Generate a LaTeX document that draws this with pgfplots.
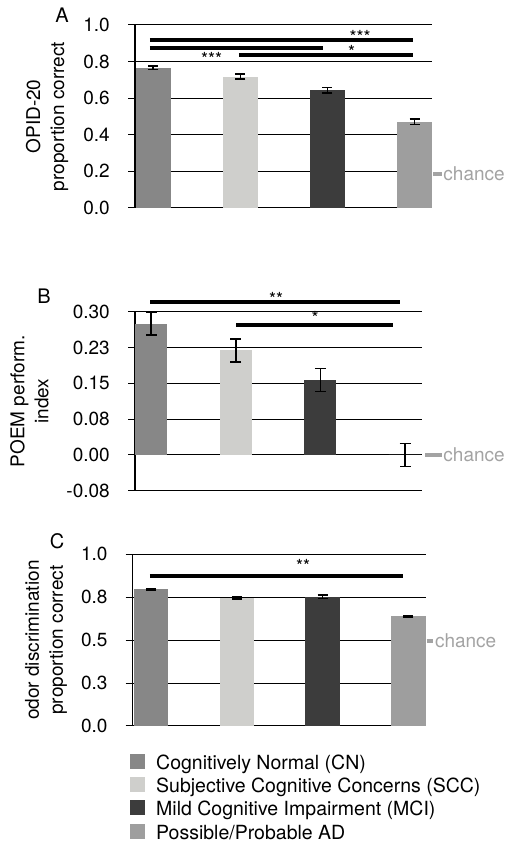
\documentclass[border=0pt]{standalone}
\usepackage{fontspec}
\setmainfont{TeX Gyre Heros}
\usepackage{pgfplots}
\pgfplotsset{compat=1.18}
\definecolor{cCN}{HTML}{878787}
\definecolor{cSCC}{HTML}{CFCFCC}
\definecolor{cMCI}{HTML}{3C3C3C}
\definecolor{cAD}{HTML}{9E9E9E}
\definecolor{cchance}{HTML}{A3A3A3}
\newcommand\ff{\fontsize{19}{24}\selectfont}
\newcommand\starfont{\fontsize{18}{20}\selectfont}
\pgfplotsset{
  panel/.style={
    scale only axis, anchor=south west, clip=false,
    axis x line=none, axis y line*=left,
    axis line style={black, line width=1.5pt},
    ymajorgrids, grid style={black, line width=1pt},
    tick align=outside, major tick length=7pt,
    ytick style={black, line width=1pt},
    xtick=\empty,
    /pgf/number format/assume math mode=true,
    yticklabel style={font=\ff, anchor=east, inner sep=0pt, xshift=-18pt},
    ylabel style={font=\ff, align=center, anchor=center},
    error bars/y dir=both, error bars/y explicit,
    error bars/error bar style={black, line width=1.6pt},
    error bars/error mark options={rotate=90, black, mark size=5pt, line width=1.6pt},
  },
  mybar/.style 2 args={ybar, bar shift=0pt, bar width=#2, draw=none, fill=#1,
    legend image code/.code={\fill[##1] (0pt,-5.5pt) rectangle (14.5pt,9.5pt);}},
}
\tikzset{
  sig/.style={line width=4pt, black},
  star/.style={anchor=base, inner sep=0pt, font=\starfont},
  plab/.style={font=\fontsize{20}{20}\selectfont, anchor=center, inner sep=0pt},
  chance/.style={cchance, line width=3.5pt},
  chancetxt/.style={right, inner sep=0pt, text=cchance, font=\ff},
}
\begin{document}
\begin{tikzpicture}
\path[use as bounding box] (0pt,0pt) rectangle (512pt,845pt);
% ---------------- Panel A ----------------
\begin{axis}[panel,
  at={(135pt,637pt)}, width=297pt, height=183pt,
  xmin=-0.21, xmax=3.2, ymin=0, ymax=1,
  ytick={0,0.2,0.4,0.6,0.8,1},
  yticklabels={0.0,0.2,0.4,0.6,0.8,1.0},
  ylabel={OPID-20\\proportion correct},
  ylabel style={at={(axis description cs:-0.296,0.5)}},
]
\addplot[mybar={cCN}{0.4}]  coordinates {(0,0.766) +- (0,0.009)};
\addplot[mybar={cSCC}{0.4}] coordinates {(1,0.718) +- (0,0.014)};
\addplot[mybar={cMCI}{0.4}] coordinates {(2,0.643) +- (0,0.016)};
\addplot[mybar={cAD}{0.4}]  coordinates {(3,0.471) +- (0,0.015)};
\draw[sig] (axis cs:-0.04,0.918) -- (axis cs:2.983,0.918);
\draw[sig] (axis cs:-0.04,0.876) -- (axis cs:1.948,0.876);
\draw[sig] (axis cs:0.983,0.838) -- (axis cs:2.983,0.838);
\node[star] at (axis cs:2.374,0.900) {***};
\node[star] at (axis cs:2.278,0.815) {*};
\node[star] at (axis cs:0.669,0.779) {***};
\draw[chance] ([xshift=1.3pt]axis cs:3.2,0.186) -- ([xshift=9.7pt]axis cs:3.2,0.186) node[chancetxt] {chance};
\node[plab] at (axis description cs:-0.2458,1.0546) {A};
\end{axis}
% ---------------- Panel B ----------------
\begin{axis}[panel,
  at={(135pt,354.3pt)}, width=287pt, height=179pt,
  xmin=-0.19, xmax=3.2, ymin=-0.075, ymax=0.3,
  ytick={-0.075,0,0.075,0.15,0.225,0.3},
  yticklabels={-0.08,0.00,0.08,0.15,0.23,0.30},
  ylabel={POEM perform.\\index},
  ylabel style={at={(axis description cs:-0.3676,0.5)}},
  error bars/error mark options={rotate=90, black, mark size=5.5pt, line width=1.6pt},
]
\addplot[mybar={cCN}{0.38}]  coordinates {(0,0.275) +- (0,0.024)};
\addplot[mybar={cSCC}{0.38}] coordinates {(1,0.219) +- (0,0.024)};
\addplot[mybar={cMCI}{0.38}] coordinates {(2,0.157) +- (0,0.024)};
\addplot[mybar={cAD}{0.38}]  coordinates {(3,0.0) +- (0,0.024)};
\draw[sig] (axis cs:-0.012,0.321) -- (axis cs:2.94,0.321);
\draw[sig] (axis cs:1.004,0.2725) -- (axis cs:2.858,0.2725);
\node[star] at (axis cs:1.476,0.3134) {**};
\node[star] at (axis cs:1.937,0.273) {*};
\draw[chance] ([xshift=3pt]axis cs:3.2,0.0) -- ([xshift=19.7pt]axis cs:3.2,0.0) node[chancetxt] {chance};
\node[plab] at (axis description cs:-0.317,1.0838) {B};
\end{axis}
% ---------------- Panel C ----------------
\begin{axis}[panel,
  at={(132.7pt,119pt)}, width=293.3pt, height=171.7pt,
  xmin=-0.213, xmax=3.204, ymin=0, ymax=1,
  ytick={0,0.25,0.5,0.75,1},
  yticklabels={0.0,0.3,0.5,0.8,1.0},
  ylabel={odor discrimination\\proportion correct},
  ylabel style={at={(axis description cs:-0.2956,0.5)}},
  legend cell align=left,
  legend style={at={(axis description cs:-0.0092,-0.160)}, anchor=north west,
    draw=none, fill=none, inner sep=0pt, row sep=4.33pt, column sep=11.5pt,
    font=\fontsize{19.5}{24}\selectfont,
    nodes={inner sep=0pt, text height=15.5pt, text depth=3.5pt}},
]
\addplot[mybar={cCN}{0.4}]  coordinates {(0,0.797) +- (0,0.004)};
\addplot[mybar={cSCC}{0.4}] coordinates {(1,0.747) +- (0,0.008)};
\addplot[mybar={cMCI}{0.4}] coordinates {(2,0.753) +- (0,0.01)};
\addplot[mybar={cAD}{0.4}]  coordinates {(3,0.639) +- (0,0.004)};
\draw[sig] (axis cs:-0.012,0.872) -- (axis cs:2.937,0.872);
\node[star] at (axis cs:1.772,0.892) {**};
\draw[chance] ([xshift=0.7pt]axis cs:3.204,0.495) -- ([xshift=7.3pt]axis cs:3.204,0.495) node[chancetxt] {chance};
\node[plab] at (axis description cs:-0.258,1.079) {C};
\legend{Cognitively Normal (CN), Subjective Cognitive Concerns (SCC), Mild Cognitive Impairment (MCI), Possible/Probable AD}
\end{axis}
\end{tikzpicture}
\end{document}
